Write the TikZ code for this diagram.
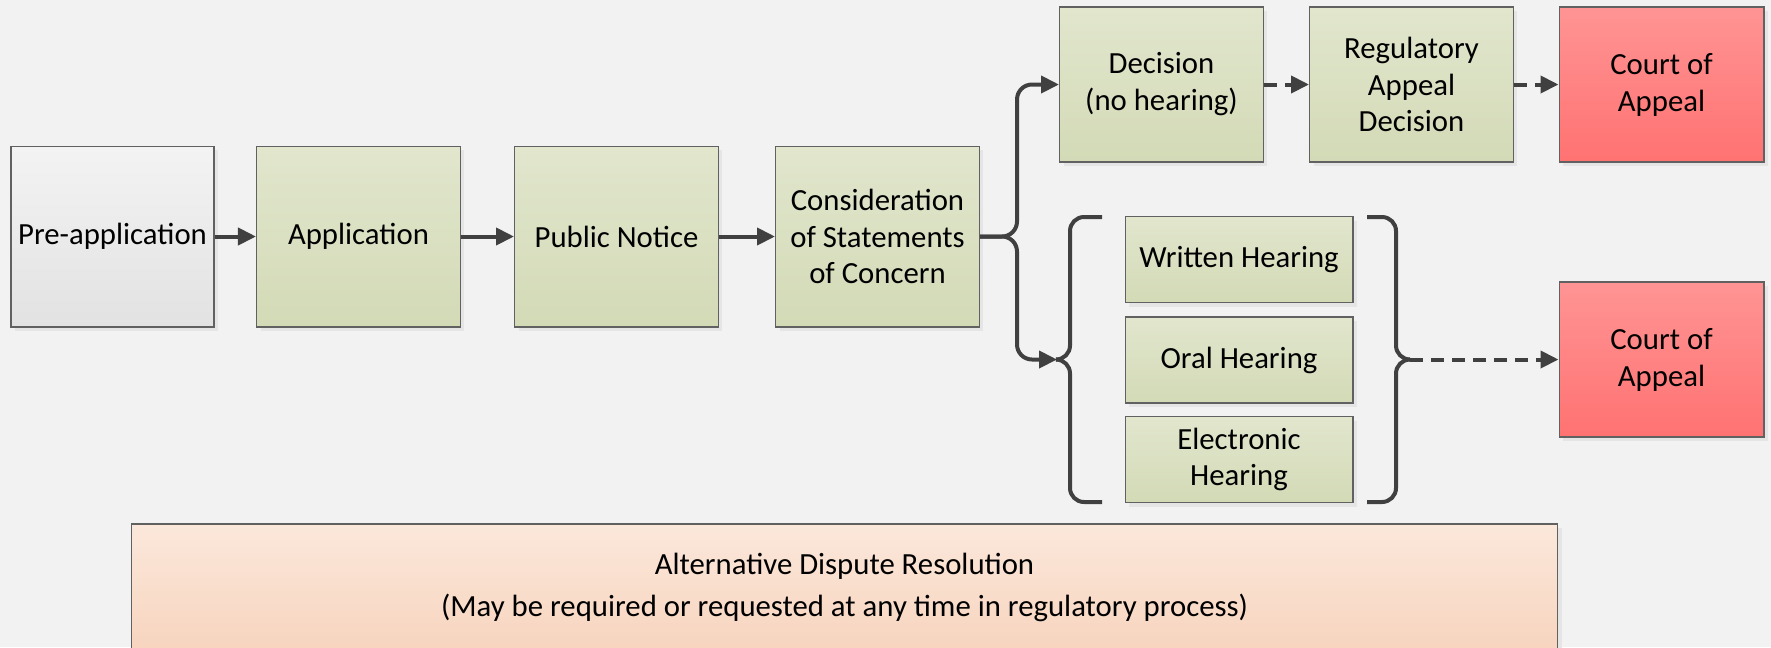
\documentclass[tikz,border=0pt]{standalone}
\usepackage{fontspec}
\setmainfont{Carlito}
\usetikzlibrary{arrows.meta,shadows}

\definecolor{bgcol}{RGB}{241,242,241}
\definecolor{linecol}{RGB}{64,64,64}
\definecolor{greentop}{RGB}{225,230,205}
\definecolor{greenbot}{RGB}{211,218,182}
\definecolor{greytop}{RGB}{243,243,243}
\definecolor{greybot}{RGB}{226,226,226}
\definecolor{courttop}{RGB}{255,148,148}
\definecolor{courtbot}{RGB}{255,114,114}
\definecolor{adrtop}{RGB}{251,232,219}
\definecolor{adrbot}{RGB}{247,212,190}

\begin{document}
\begin{tikzpicture}[x=0.02cm,y=-0.02cm]
    \tikzstyle{box}=[draw=black!62,line width=0.6pt,align=center,inner sep=0,
        font=\fontsize{17.5}{21}\selectfont,
        drop shadow={shadow xshift=0.08cm,shadow yshift=-0.08cm,fill=black!10,opacity=1}]
    \tikzstyle{step box}=[box,top color=greentop,bottom color=greenbot,minimum width=4.08cm,minimum height=3.62cm]
    \tikzstyle{upper box}=[box,top color=greentop,bottom color=greenbot,minimum width=4.08cm,minimum height=3.1cm]
    \tikzstyle{hearing box}=[box,top color=greentop,bottom color=greenbot,minimum width=4.56cm,minimum height=1.72cm]
    \tikzstyle{court box}=[box,top color=courttop,bottom color=courtbot,minimum width=4.1cm,minimum height=3.1cm]
    \tikzstyle{flow}=[draw=linecol,line width=0.08cm,-{Triangle[length=0.36cm,width=0.34cm]}]
    \tikzstyle{dashed flow}=[flow,dash pattern=on 0.26cm off 0.16cm]
    \tikzstyle{brace}=[draw=linecol,line width=0.08cm,rounded corners=0.28cm]

    \fill[bgcol] (0,0) rectangle (1771,647);
    \useasboundingbox (0,0) rectangle (1771,647);

    \node(pre)[box,top color=greytop,bottom color=greybot,minimum width=4.06cm,minimum height=3.62cm] at (112.5,236.5) {Pre-application};
    \node(app)[step box] at (358.5,236.5) {Application};
    \node(pub)[step box] at (616.5,236.5) {Public Notice};
    \node(cons)[step box] at (877.5,236.5) {Consideration\\of Statements\\of Concern};

    \node(dec)[upper box] at (1161.5,84.5) {Decision\\(no hearing)};
    \node(reg)[upper box] at (1411.5,84.5) {Regulatory\\Appeal\\Decision};
    \node(court1)[court box] at (1661.5,84.5) {Court of\\Appeal};

    \node(written)[hearing box] at (1239,259.5) {Written Hearing};
    \node(oral)[hearing box] at (1239,360) {Oral Hearing};
    \node(elec)[hearing box] at (1239,459.5) {Electronic\\Hearing};
    \node(court2)[court box] at (1661.5,359.5) {Court of\\Appeal};

    \node(adr)[box,top color=adrtop,bottom color=adrbot,minimum width=28.54cm,minimum height=2.54cm] at (844.5,587.5)
        {Alternative Dispute Resolution\\[3pt](May be required or requested at any time in regulatory process)};

    \coordinate (split) at (1017,236.5);
    \coordinate (ltip) at (1057,359.5);
    \coordinate (lbtop) at (1102,217);
    \coordinate (lbbot) at (1102,502);
    \coordinate (rtip) at (1410,359.5);
    \coordinate (rbtop) at (1367,217);
    \coordinate (rbbot) at (1367,502);

    \draw[flow] (pre) -- (app);
    \draw[flow] (app) -- (pub);
    \draw[flow] (pub) -- (cons);
    \draw[flow,rounded corners=0.3cm] (cons.east) -- (split) |- (dec.west);
    \draw[flow,rounded corners=0.3cm] (cons.east) -- (split) |- (ltip);
    \draw[dashed flow] (dec) -- (reg);
    \draw[dashed flow] (reg) -- (court1);

    \draw[brace] (lbtop) -- ++(-32,0) |- (ltip);
    \draw[brace] (lbbot) -- ++(-32,0) |- (ltip);
    \draw[brace] (rbtop) -- ++(29,0) |- (rtip);
    \draw[brace] (rbbot) -- ++(29,0) |- (rtip);
    \draw[dashed flow] (rtip) -- (court2.west);
\end{tikzpicture}
\end{document}
